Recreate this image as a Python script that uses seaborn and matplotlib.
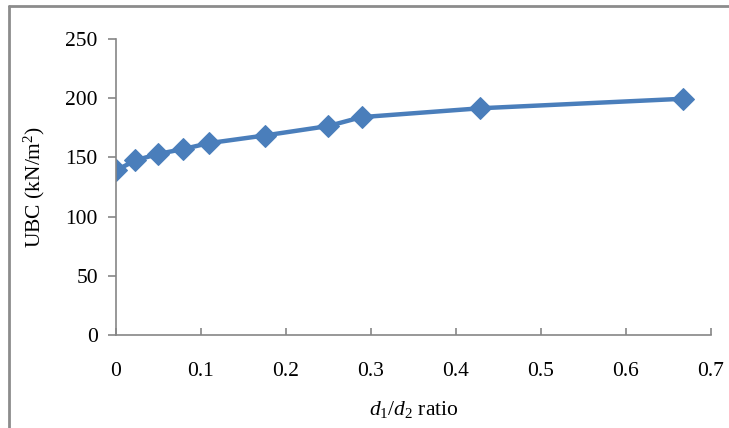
import numpy as np
import pandas as pd
import matplotlib
matplotlib.use("Agg")
import matplotlib.pyplot as plt
import seaborn as sns
from matplotlib.lines import Line2D

# values
ratio = [0.0, 0.023, 0.05, 0.079, 0.109, 0.175, 0.25, 0.289, 0.429, 0.667]
ubc = [139, 147.5, 153, 157, 162, 168.5, 176.5, 184, 191.5, 199.5]
x_ticks = [0, 0.1, 0.2, 0.3, 0.4, 0.5, 0.6, 0.7]
y_ticks = [0, 50, 100, 150, 200, 250]

df = pd.DataFrame({"ratio": ratio, "UBC": ubc})

sns.set_style("white")
plt.rcParams["font.family"] = ["Liberation Serif", "DejaVu Serif"]
plt.rcParams["mathtext.fontset"] = "custom"
plt.rcParams["mathtext.it"] = "Liberation Serif:italic"
plt.rcParams["mathtext.rm"] = "Liberation Serif"
plt.rcParams["text.color"] = "black"
plt.rcParams["axes.labelcolor"] = "black"
plt.rcParams["xtick.labelcolor"] = "black"
plt.rcParams["ytick.labelcolor"] = "black"

fig = plt.figure(figsize=(7.29, 4.28), dpi=100)
ax = fig.add_axes([0.159, 0.217, 0.816, 0.692])

blue = "#4A7EBB"
sns.lineplot(data=df, x="ratio", y="UBC", ax=ax, color=blue, linewidth=3.2,
             marker="D", markersize=11, markeredgecolor=blue, markerfacecolor=blue)

ax.set_xlim(0, 0.7)
ax.set_ylim(0, 250)
ax.set_xticks(x_ticks)
ax.set_xticklabels([f"{t:g}" for t in x_ticks])
ax.set_yticks(y_ticks)

for s in ["top", "right"]:
    ax.spines[s].set_visible(False)
for s in ["left", "bottom"]:
    ax.spines[s].set_color("#868686")
    ax.spines[s].set_linewidth(1.2)

ax.tick_params(axis="y", direction="out", length=6, width=1.2, color="#868686",
               labelsize=15.5, pad=7, left=True)
ax.tick_params(axis="x", direction="in", length=5, width=1.2, color="#868686",
               labelsize=15.5, pad=19, bottom=True)

ax.set_xlabel("$d_1$/$d_2$ ratio", fontsize=15.5, labelpad=13)
ax.set_ylabel("UBC (kN/m$^2$)", fontsize=15.5, labelpad=13)

# outer chart frame
fig.add_artist(Line2D([9 / 729, 9 / 729], [0, 1 - 6 / 428], transform=fig.transFigure,
                      color="#8c8c8c", linewidth=2))
fig.add_artist(Line2D([9 / 729, 1], [1 - 6 / 428, 1 - 6 / 428], transform=fig.transFigure,
                      color="#8c8c8c", linewidth=2))

fig.savefig("out.png", dpi=100)
